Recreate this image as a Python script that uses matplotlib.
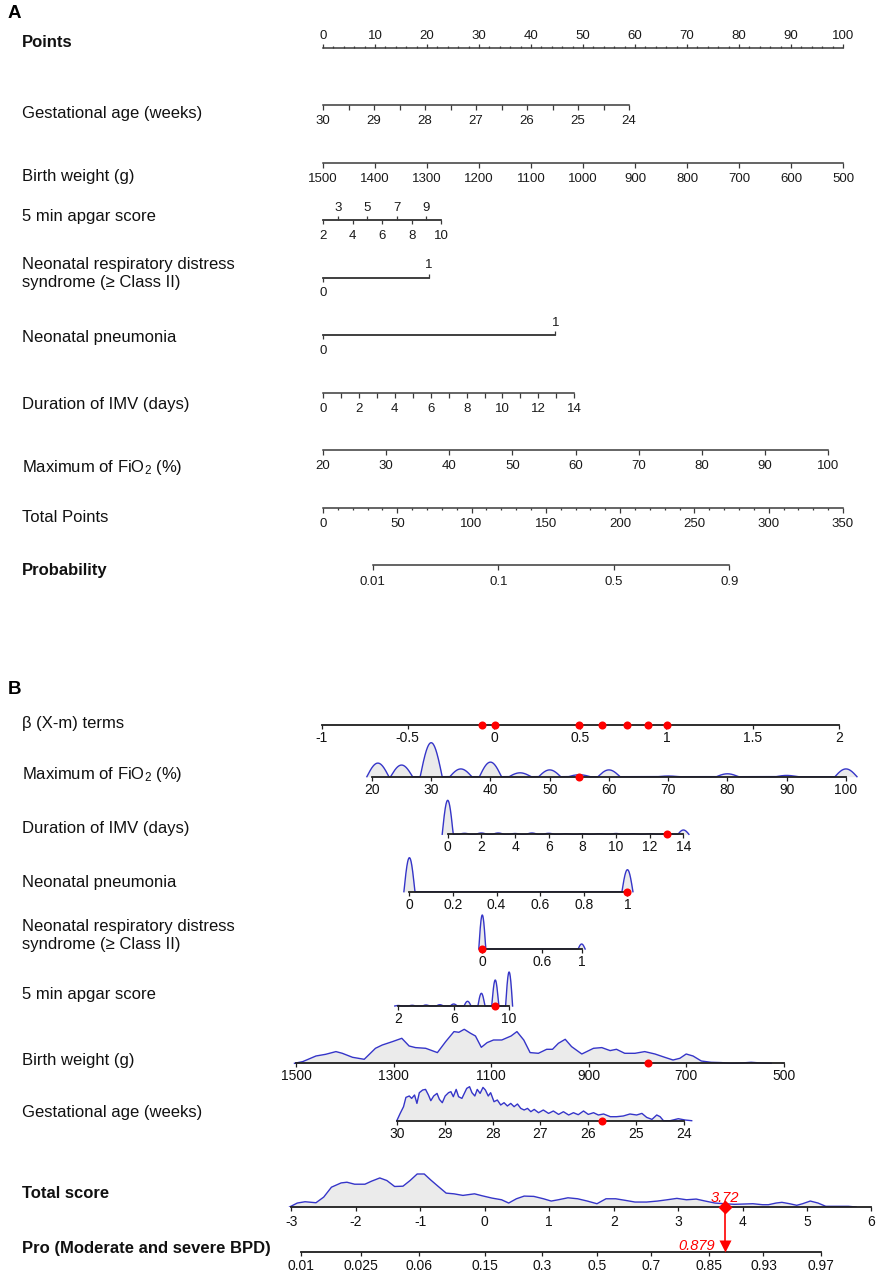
import numpy as np
import matplotlib
matplotlib.use("Agg")
import matplotlib.pyplot as plt
from matplotlib import font_manager

W, H = 878, 1271
DPI = 100
PT = 72.0 / DPI  # points per pixel

plt.rcParams['font.family'] = ['Liberation Sans', 'DejaVu Sans']
plt.rcParams['mathtext.default'] = 'regular'
plt.rcParams['axes.unicode_minus'] = False

_names = {f.name for f in font_manager.fontManager.ttflist}
NARROW = 'Liberation Sans Narrow' if 'Liberation Sans Narrow' in _names else 'Liberation Sans'
B_TICK_SIZE = 11.5 if NARROW == 'Liberation Sans Narrow' else 10

# ---------------------------------------------------------------- data
var_labels = ["Maximum of FiO$_2$ (%)", "Duration of IMV (days)", "Neonatal pneumonia",
              "Neonatal respiratory distress\nsyndrome (\u2265 Class II)", "5 min apgar score",
              "Birth weight (g)", "Gestational age (weeks)"]
# beta(X-m) = coef * (X - centre)
coefs = [0.03435, 0.0976, 1.264, 0.576, 0.0803, -0.002828, -0.2775]
centres = [40.6, 2.75, 0.388, 0.118, 8.91, 1094.0, 27.97]
ranges = [(20, 100), (0, 14), (0, 1), (0, 1), (2, 10), (1500, 500), (30, 24)]
logit_shift = 1.737
patient = [55, 13, 1, 0, 9, 779, 25.72]

# panel A tick values
pointsA_major = list(range(0, 101, 10))
pointsA_minor = list(range(0, 101, 2))
gaA_major = [30, 29, 28, 27, 26, 25, 24]
gaA_minor = [30, 29.5, 29, 28.5, 28, 27.5, 27, 26.5, 26, 25.5, 25, 24.5, 24]
bwA_major = [1500, 1400, 1300, 1200, 1100, 1000, 900, 800, 700, 600, 500]
apgarA_below = [2, 4, 6, 8, 10]
apgarA_above = [3, 5, 7, 9]
binA_below = [0]
binA_above = [1]
imvA_major = [0, 2, 4, 6, 8, 10, 12, 14]
imvA_minor = list(range(0, 15))
fio2A_major = [20, 30, 40, 50, 60, 70, 80, 90, 100]
tpA_major = [0, 50, 100, 150, 200, 250, 300, 350]
tpA_minor = list(range(0, 351, 10))
probA_ticks = [0.01, 0.1, 0.5, 0.9]

# panel B tick values
betaB_ticks = [-1, -0.5, 0, 0.5, 1, 1.5, 2]
fio2B_ticks = [20, 30, 40, 50, 60, 70, 80, 90, 100]
imvB_ticks = [0, 2, 4, 6, 8, 10, 12, 14]
pneuB_ticks = [0, 0.2, 0.4, 0.6, 0.8, 1]
rdsB_ticks = [0, 0.6, 1]
apgarB_ticks = [2, 6, 10]
bwB_ticks = [1500, 1300, 1100, 900, 700, 500]
gaB_ticks = [30, 29, 28, 27, 26, 25, 24]
tsB_ticks = [-3, -2, -1, 0, 1, 2, 3, 4, 5, 6]
proB_ticks = [0.01, 0.025, 0.06, 0.15, 0.3, 0.5, 0.7, 0.85, 0.93, 0.97]

# panel B densities (discrete variables: relative bar heights at each value)
fio2_vals = [21, 25, 30, 35, 40, 45, 50, 55, 60, 70, 80, 90, 100]
fio2_dens = [14, 12, 35, 8, 15, 4, 7, 2, 7, 0.7, 3, 1.3, 8]
imv_vals = list(range(0, 15))
imv_dens = [34, 1.0, 1.3, 1.3, 0.8, 1.3, 1.0, 0.6, 0.6, 0.6, 0.8, 0.6, 0.6, 0.6, 4.3]
pneu_vals = [0, 1]
pneu_dens = [34, 22]
rds_vals = [0, 1]
rds_dens = [34, 5]
apgar_vals = [2, 3, 4, 5, 6, 7, 8, 9, 10]
apgar_dens = [0.5, 0.7, 1.0, 1.3, 2.0, 4.7, 12.7, 26, 34]

# continuous densities (value, relative height)
bw_x = [1503, 1486, 1459, 1439, 1418, 1405, 1384, 1360, 1337, 1323, 1302, 1283, 1268, 1255,
        1234, 1210, 1193, 1176, 1166, 1155, 1142, 1132, 1120, 1108, 1095, 1078, 1059, 1047,
        1033, 1020, 1003, 986, 974, 962, 948, 935, 914, 890, 873, 856, 843, 826, 805, 785,
        764, 744, 727, 713, 700, 686, 669, 649, 628, 608, 587, 567, 546, 526]
bw_d = [0, 1.7, 7.3, 9, 11.7, 10, 6, 4, 15, 18.3, 21.7, 25, 17.3, 15.7, 15, 10.7, 21.7,
        31.7, 31, 34, 30, 27.3, 16, 20.7, 23.3, 23.3, 27.3, 31.7, 23.3, 10.7, 10, 14, 14,
        20, 24, 16.7, 9.3, 15, 15.7, 12.7, 14, 10, 10, 11.7, 9.3, 6, 3.3, 5, 9.3, 7.3, 2.3,
        1, 0.7, 0, 0.3, 1, 0.3, 0]
ga_x = [30.00, 29.93, 29.86, 29.81, 29.74, 29.69, 29.63, 29.58, 29.53, 29.46, 29.40, 29.34,
        29.29, 29.23, 29.16, 29.11, 29.05, 28.99, 28.92, 28.87, 28.82, 28.76, 28.71, 28.64,
        28.59, 28.54, 28.48, 28.43, 28.37, 28.32, 28.26, 28.20, 28.15, 28.09, 28.04, 27.97,
        27.90, 27.83, 27.76, 27.69, 27.62, 27.55, 27.48, 27.41, 27.34, 27.27, 27.20, 27.13,
        27.04, 26.94, 26.83, 26.73, 26.62, 26.52, 26.41, 26.31, 26.21, 26.10, 26.00, 25.89,
        25.79, 25.68, 25.54, 25.41, 25.27, 25.13, 24.99, 24.88, 24.78, 24.67, 24.57, 24.50,
        24.43, 24.29, 24.12, 23.98, 23.84]
ga_d = [0, 7.3, 14, 23.3, 24.7, 22.3, 25.7, 17.3, 28, 30.7, 31.3, 25.7, 20, 24.7, 27.3,
        21.3, 18, 24.7, 28, 29, 24, 31.3, 24, 22.3, 27.3, 32.3, 34, 28, 24.7, 31.3, 27.3,
        33.3, 30.7, 24.7, 28, 19, 20.7, 15.7, 18, 14.7, 17.3, 14, 16.7, 12.3, 10.7, 12.3, 9,
        11.3, 8, 10.7, 7.3, 9.7, 6.3, 9, 5.7, 8, 6, 9.7, 6.3, 8, 5.7, 6.7, 4, 4, 4.7, 6.7,
        5.7, 7.3, 3.3, 1.3, 5.7, 4, 0, 0, 2, 0.7, 0]
ts_x = [-3.03, -2.91, -2.79, -2.62, -2.50, -2.38, -2.23, -2.14, -2.02, -1.86, -1.76, -1.63,
        -1.52, -1.40, -1.27, -1.16, -1.05, -0.94, -0.84, -0.74, -0.60, -0.48, -0.34, -0.16,
        -0.04, 0.11, 0.26, 0.37, 0.49, 0.61, 0.76, 0.91, 1.03, 1.14, 1.29, 1.44, 1.59, 1.74,
        1.88, 2.03, 2.18, 2.33, 2.51, 2.68, 2.83, 2.98, 3.13, 3.28, 3.42, 3.57, 3.72, 3.87,
        4.02, 4.16, 4.31, 4.40, 4.52, 4.61, 4.73, 4.84, 4.93, 5.05, 5.17, 5.29, 5.47, 5.64,
        5.76]
ts_d = [0, 4, 5.3, 4.3, 10, 20, 24.3, 25, 23, 23, 26, 29.3, 26.7, 20.7, 21, 26.7, 33.3,
        33.3, 27.3, 21.7, 14, 13.3, 11.7, 13.3, 11.3, 9, 7.3, 4, 8.3, 11, 10.7, 8.3, 6, 7.3,
        9.3, 8.3, 6, 3.3, 8.3, 8.3, 6.7, 5, 5, 6, 7.3, 8.7, 7.3, 8, 6, 4, 3.3, 2.7, 3, 3.3,
        2.3, 2.3, 4, 4.7, 3.3, 1.7, 3.3, 6, 4, 0.7, 0.7, 0.7, 0]

# ---------------------------------------------------------------- derived model values
def beta(i, v):
    return coefs[i] * (np.asarray(v, float) - centres[i])

def logit(p):
    p = np.asarray(p, float)
    return np.log(p / (1 - p))

lo_beta = [min(beta(i, ranges[i][0]), beta(i, ranges[i][1])) for i in range(7)]
spans = [abs(beta(i, ranges[i][1]) - beta(i, ranges[i][0])) for i in range(7)]
R = max(spans)
patient_beta = [float(beta(i, patient[i])) for i in range(7)]
total_score = sum(patient_beta)
prob = 1 / (1 + np.exp(-(total_score - logit_shift)))

def points(i, v):
    return 100 * (beta(i, v) - lo_beta[i]) / R

def tp_of_prob(p):
    return (logit(p) + logit_shift - sum(lo_beta)) * 100 / R

# ---------------------------------------------------------------- layout / style
A_X0, A_X1 = 323.0, 843.0          # pixel x of 0 and 100 points
TP_MAX = 350
B_BETA_PX = (321.5, 839.0)         # pixel x of beta -1 and 2
TS_PX = (291.5, 871.5)             # pixel x of score -3 and 6
A_Y = [47.7 + 57.5 * k for k in range(10)]
B_Y = [725, 776.7, 834.3, 891.7, 949, 1006, 1063.3, 1120.7]
TS_Y, PRO_Y = 1207, 1252
A_COL = '#3a3a3a'
B_COL = '#1e1e1e'
BLUE = '#3535c8'
FILL = '#ebebeb'
RED = '#ff0000'
LABEL_SIZE = 12
A_TICK_SIZE = 9.5

fig = plt.figure(figsize=(W / DPI, H / DPI), dpi=DPI)


def make_row(y_line, fmap, v1, v2, side="bottom", h=44):
    p1, p2 = fmap(v1), fmap(v2)
    k = (v2 - v1) / (p2 - p1)
    xl = (v1 + (0 - p1) * k, v1 + (W - p1) * k)
    if side == "bottom":
        rect = [0, 1 - y_line / H, 1, h / H]
    else:
        rect = [0, 1 - (y_line + h) / H, 1, h / H]
    ax = fig.add_axes(rect)
    ax.set_xlim(*xl)
    ax.set_ylim(0, h)
    ax.patch.set_visible(False)
    for s in ax.spines.values():
        s.set_visible(False)
    ax.spines[side].set_visible(True)
    ax.yaxis.set_visible(False)
    ax.xaxis.set_ticks_position(side)
    return ax


def fmt(v):
    return ('%g' % v)


def style_A(ax, side, bounds, major, labels=None, minor=None, maj_len=4.5, min_len=2.3,
            pad_px=5.5):
    ax.spines[side].set_bounds(*bounds)
    ax.spines[side].set_linewidth(1.1)
    ax.spines[side].set_color(A_COL)
    ax.set_xticks(major)
    ax.set_xticklabels(labels if labels is not None else [fmt(v) for v in major])
    if minor is not None:
        ax.set_xticks(minor, minor=True)
    ax.tick_params(axis='x', which='major', direction='out', length=maj_len * PT,
                   width=0.9, color=A_COL, pad=pad_px * PT, labelsize=A_TICK_SIZE,
                   labelcolor='#1a1a1a')
    ax.tick_params(axis='x', which='minor', direction='out', length=min_len * PT,
                   width=0.9, color=A_COL)


def style_B(ax, bounds, ticks, labels=None, pad_px=2.0):
    ax.spines['bottom'].set_bounds(*bounds)
    ax.spines['bottom'].set_linewidth(1.3)
    ax.spines['bottom'].set_color(B_COL)
    ax.spines['bottom'].set_zorder(3)
    ax.set_xticks(ticks)
    ax.set_xticklabels(labels if labels is not None else [fmt(v) for v in ticks])
    ax.tick_params(axis='x', which='major', direction='out', length=4 * PT, width=0.9,
                   color=B_COL, pad=pad_px * PT, labelsize=B_TICK_SIZE, labelcolor='#111111')
    for t in ax.get_xticklabels():
        t.set_family([NARROW, 'Liberation Sans'])


def left_label(y, text, bold=False):
    fig.text(22 / W, 1 - y / H, text, ha='left', va='center', fontsize=LABEL_SIZE,
             fontweight='bold' if bold else 'normal', color='#111111', linespacing=1.25)


# ================================================================ panel A
fig.text(8 / W, 1 - 13 / H, 'A', fontsize=13.5, fontweight='bold', ha='left', va='center')

px_points = lambda p: A_X0 + (A_X1 - A_X0) * p / 100.0

# Points scale
ax = make_row(A_Y[0], px_points, 0, 100, side='top')
style_A(ax, 'top', (0, 100), pointsA_major, minor=pointsA_minor, maj_len=4.3, min_len=2.0,
        pad_px=1.5)
left_label(42.7, 'Points', bold=True)

A_order = [6, 5, 4, 3, 2, 1, 0]   # GA, BW, apgar, RDS, pneumonia, IMV, FiO2
A_label_y = [113.3, 177, 217, 273.5, 338, 404, 468]
for row, i in enumerate(A_order):
    y = A_Y[row + 1]
    fmap = (lambda i_: (lambda v: px_points(points(i_, v))))(i)
    v0, v1 = ranges[i]
    if i in (4, 3, 2):
        axb = make_row(y, fmap, v0, v1, side='bottom')
        axt = make_row(y, fmap, v0, v1, side='top')
        if i == 4:
            style_A(axb, 'bottom', (v0, v1), apgarA_below, maj_len=4.0)
            style_A(axt, 'top', (v0, v1), apgarA_above, maj_len=4.0, pad_px=2.4)
        else:
            style_A(axb, 'bottom', (v0, v1), binA_below, maj_len=4.0)
            style_A(axt, 'top', (v0, v1), binA_above, maj_len=4.0, pad_px=2.4)
    else:
        axb = make_row(y, fmap, v0, v1, side='bottom')
        if i == 6:
            style_A(axb, 'bottom', (v0, v1), gaA_major, minor=gaA_minor, min_len=4.5)
        elif i == 5:
            style_A(axb, 'bottom', (v0, v1), bwA_major)
        elif i == 1:
            style_A(axb, 'bottom', (v0, v1), imvA_major, minor=imvA_minor, min_len=4.5)
        else:
            style_A(axb, 'bottom', (v0, v1), fio2A_major)
    left_label(A_label_y[row], var_labels[i])

# Total points
px_tp = lambda t: A_X0 + (A_X1 - A_X0) * t / TP_MAX
ax = make_row(A_Y[8], px_tp, 0, TP_MAX, side='bottom')
style_A(ax, 'bottom', (0, TP_MAX), tpA_major, minor=tpA_minor, maj_len=4.5, min_len=2.5)
left_label(517, 'Total Points')

# Probability
ax = make_row(A_Y[9], px_tp, 0, TP_MAX, side='bottom')
prob_pos = [float(tp_of_prob(p)) for p in probA_ticks]
style_A(ax, 'bottom', (prob_pos[0], prob_pos[-1]), prob_pos,
        labels=[fmt(p) for p in probA_ticks], maj_len=4.5, pad_px=6.5)
left_label(571, 'Probability', bold=True)

# ================================================================ panel B
fig.text(8 / W, 1 - 689 / H, 'B', fontsize=13.5, fontweight='bold', ha='left', va='center')

px_beta = lambda b: B_BETA_PX[0] + (B_BETA_PX[1] - B_BETA_PX[0]) * (b + 1) / 3.0

# beta axis
ax = make_row(B_Y[0], px_beta, -1, 2)
style_B(ax, (-1, 2), betaB_ticks)
ax.plot(patient_beta, [0] * 7, 'o', color=RED, ms=5.8, mec='none', clip_on=False, zorder=5)
left_label(724, '\u03b2 (X-m) terms')

B_order = [0, 1, 2, 3, 4, 5, 6]
B_ticks = [fio2B_ticks, imvB_ticks, pneuB_ticks, rdsB_ticks, apgarB_ticks, bwB_ticks, gaB_ticks]
B_label_y = [775, 829, 882, 936, 995, 1060, 1112]
discrete = {0: (fio2_vals, fio2_dens, 11.0), 1: (imv_vals, imv_dens, 5.5),
            2: (pneu_vals, pneu_dens, 5.5), 3: (rds_vals, rds_dens, 3.5),
            4: (apgar_vals, apgar_dens, 3.5)}
continuous = {5: (bw_x, bw_d), 6: (ga_x, ga_d)}
DENS_H = 34.0

for row, i in enumerate(B_order):
    y = B_Y[row + 1]
    fmap = (lambda i_: (lambda v: px_beta(float(beta(i_, v)))))(i)
    v0, v1 = ranges[i]
    ax = make_row(y, fmap, v0, v1)
    style_B(ax, (v0, v1), B_ticks[row])
    px_per_unit = abs(fmap(1.0) - fmap(0.0))
    if i in discrete:
        vals, hts, hw_px = discrete[i]
        hw = hw_px / px_per_unit
        xs = np.linspace(min(vals) - hw, max(vals) + hw, 3000)
        ys = np.zeros_like(xs)
        for v, hgt in zip(vals, hts):
            d = np.abs(xs - v) / hw
            ys = np.maximum(ys, np.where(d < 1, hgt * np.cos(np.clip(d, 0, 1) * np.pi / 2), 0))
    else:
        xs, ys = continuous[i]
        xs = np.asarray(xs, float)
        ys = np.asarray(ys, float)
    ys = ys / ys.max() * DENS_H
    ax.fill_between(xs, 0, ys, color=FILL, lw=0, zorder=1)
    ax.plot(xs, ys, color=BLUE, lw=1.0, zorder=2, clip_on=False)
    ax.plot([patient[i]], [0], 'o', color=RED, ms=5.8, mec='none', clip_on=False, zorder=5)
    left_label(B_label_y[row], var_labels[i])

# Total score
px_ts = lambda s: TS_PX[0] + (TS_PX[1] - TS_PX[0]) * (s + 3) / 9.0
ax = make_row(TS_Y, px_ts, -3, 6)
style_B(ax, (-3, 6), tsB_ticks, pad_px=3.5)
tx = np.asarray(ts_x, float)
ty = np.asarray(ts_d, float)
ty = ty / ty.max() * 33.0
ax.fill_between(tx, 0, ty, color=FILL, lw=0, zorder=1)
ax.plot(tx, ty, color=BLUE, lw=1.0, zorder=2)
ax.plot([total_score], [0], 'D', color=RED, ms=7.5, mec='none', clip_on=False, zorder=6)
ax.annotate('%.2f' % total_score, (total_score, 0), xytext=(0, 3.5), textcoords='offset points',
            ha='center', va='baseline', color=RED, fontsize=10.5, style='italic', zorder=7)
left_label(1194, 'Total score', bold=True)

# Probability (Pro)
ax = make_row(PRO_Y, px_ts, -3, 6, h=50)
pro_pos = [float(logit(p) + logit_shift) for p in proB_ticks]
style_B(ax, (pro_pos[0], pro_pos[-1]), pro_pos, labels=[fmt(p) for p in proB_ticks],
        pad_px=3.0)
p_score = float(logit(prob) + logit_shift)
ax.plot([p_score, p_score], [PRO_Y - TS_Y, 11], color=RED, lw=1.2, zorder=5, clip_on=False)
ax.plot([p_score], [6.5], 'v', color=RED, ms=9, mec='none', clip_on=False, zorder=6)
ax.annotate('%.3f' % prob, (p_score, 6.5), xytext=(-7, 0), textcoords='offset points',
            ha='right', va='center', color=RED, fontsize=10.5, style='italic', zorder=7)
left_label(1249, 'Pro (Moderate and severe BPD)', bold=True)

fig.savefig('out.png', dpi=DPI)
